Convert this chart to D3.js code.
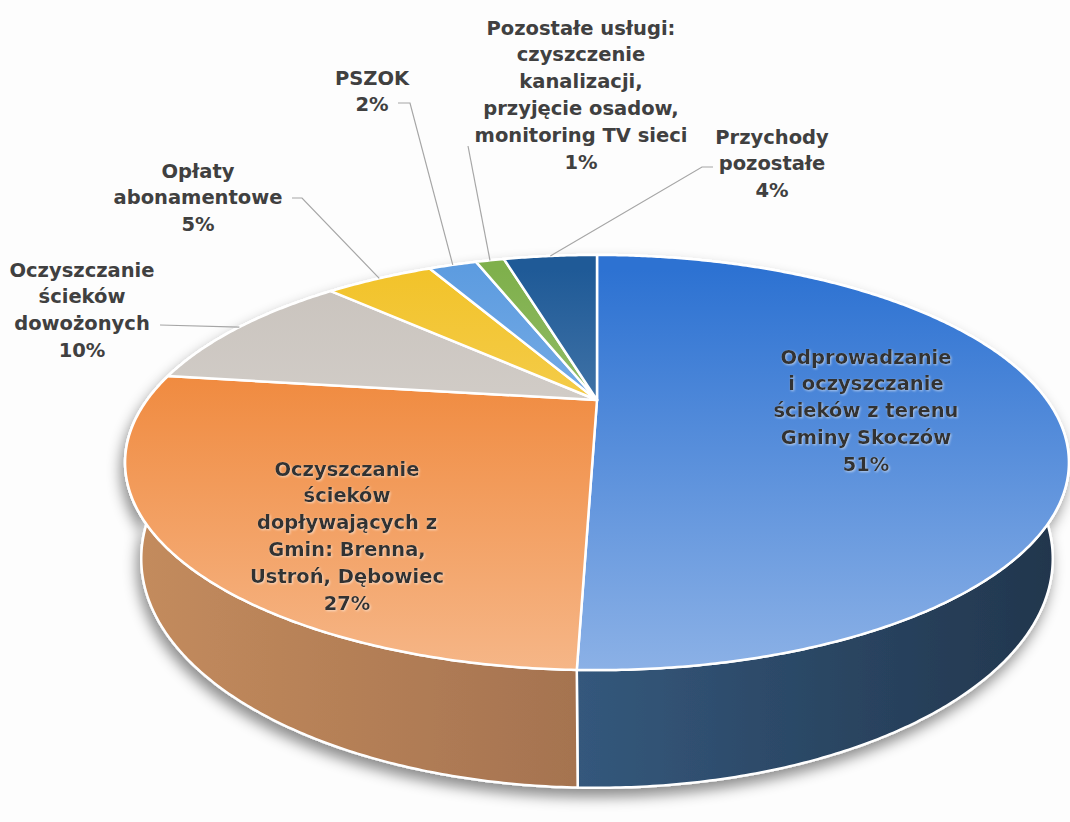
<!DOCTYPE html>
<html><head><meta charset="utf-8">
<script src="https://cdn.jsdelivr.net/npm/d3@7"></script>
<style>body{margin:0;background:#fdfdfd} svg{display:block}</style>
</head><body>
<svg id="chart" width="1070" height="822"></svg>
<script>
// ---- data ----
const categories = [
  "Odprowadzanie i oczyszczanie ścieków z terenu Gminy Skoczów",
  "Oczyszczanie ścieków dopływających z Gmin: Brenna, Ustroń, Dębowiec",
  "Oczyszczanie ścieków dowożonych",
  "Opłaty abonamentowe",
  "PSZOK",
  "Pozostałe usługi: czyszczenie kanalizacji, przyjęcie osadow, monitoring TV sieci",
  "Przychody pozostałe"
];
const values = [50.5, 26.6, 10.2, 4.9, 2.2, 1.3, 4.3];
const labelLines = [
  ["Odprowadzanie", "i oczyszczanie", "ścieków z terenu", "Gminy Skoczów"],
  ["Oczyszczanie", "ścieków", "dopływających z", "Gmin: Brenna,", "Ustroń, Dębowiec"],
  ["Oczyszczanie", "ścieków", "dowożonych"],
  ["Opłaty", "abonamentowe"],
  ["PSZOK"],
  ["Pozostałe usługi:", "czyszczenie", "kanalizacji,", "przyjęcie osadow,", "monitoring TV sieci"],
  ["Przychody", "pozostałe"]
];

// ---- styles / layout ----
const topColors  = ["#2d72d2", "#ee7b26", "#c9c3bd", "#f2c32a", "#5d9ce0", "#7fb04c", "#1f5a97"];
const sideLeft   = ["#34587c", "#c38b5d", "#9c968f", "#c09a20", "#4a7db4", "#638a3b", "#17446f"];
const sideRight  = ["#22364d", "#a57350", "#8a857f", "#a8861a", "#3d6a9a", "#557632", "#133a60"];
const labelPos = [
  {x: 866, y: 357, inside: true},
  {x: 347, y: 469, inside: true},
  {x: 82,  y: 270, leader: [[160, 325], [160, 325]]},
  {x: 198, y: 171, leader: [[292, 198], [302, 198]]},
  {x: 372, y: 78,  leader: [[398, 103], [410, 103]]},
  {x: 581, y: 28,  leader: [[468, 146], [468, 146]]},
  {x: 772, y: 137, leader: [[713, 167], [702, 167]]}
];
const lineH = 26.8;

const cam = {cx: 597, cy: 400, s: 450, alpha: 65.2 * Math.PI / 180, f: 3.014, h: 0.232};

function P(theta, z, r = 1) {
  const X = r * Math.sin(theta), Y = -r * Math.cos(theta);
  const ca = Math.cos(cam.alpha), sa = Math.sin(cam.alpha);
  const yc = Y * ca - z * sa;
  const zc = Y * sa + z * ca;
  const sc = cam.f / (cam.f - zc);
  return [cam.cx + cam.s * X * sc, cam.cy + cam.s * yc * sc];
}
function rim(a0, a1, z) {
  const n = Math.max(2, Math.ceil((a1 - a0) / (Math.PI / 360)));
  return d3.range(n + 1).map(i => P(a0 + (a1 - a0) * i / n, z));
}

const svg = d3.select("#chart");
const defs = svg.append("defs");

const shadow = defs.append("filter").attr("id", "shadow")
  .attr("x", "-10%").attr("y", "-10%").attr("width", "120%").attr("height", "130%");
shadow.append("feDropShadow").attr("dx", -3).attr("dy", 8).attr("stdDeviation", 7)
  .attr("flood-color", "#000").attr("flood-opacity", 0.45);

const glow = defs.append("filter").attr("id", "glow");
glow.append("feDropShadow").attr("dx", 1).attr("dy", 1).attr("stdDeviation", 1.2)
  .attr("flood-color", "#ffffff").attr("flood-opacity", 0.55);

const arcs = d3.pie().sort(null).value(d => d)(values);

// gradients
arcs.forEach((a, i) => {
  const g = defs.append("linearGradient").attr("id", "top" + i)
    .attr("gradientUnits", "userSpaceOnUse").attr("x1", 0).attr("y1", 270).attr("x2", 0).attr("y2", 690);
  g.append("stop").attr("offset", 0).attr("stop-color", topColors[i]);
  g.append("stop").attr("offset", 1).attr("stop-color", d3.interpolateRgb(topColors[i], "#fff")(0.47));
  const pts = rim(a.startAngle, a.endAngle, -cam.h);
  const xs = d3.extent(pts, p => p[0]);
  const sg = defs.append("linearGradient").attr("id", "side" + i)
    .attr("gradientUnits", "userSpaceOnUse").attr("x1", xs[0]).attr("y1", 0).attr("x2", xs[1]).attr("y2", 0);
  sg.append("stop").attr("offset", 0).attr("stop-color", sideLeft[i]);
  sg.append("stop").attr("offset", 1).attr("stop-color", sideRight[i]);
});

const line = d3.line();

// sides
const sideG = svg.append("g").attr("filter", "url(#shadow)");
sideG.selectAll("path").data(arcs).join("path")
  .attr("d", a => line(rim(a.startAngle, a.endAngle, 0).concat(rim(a.startAngle, a.endAngle, -cam.h).reverse())) + "Z")
  .attr("fill", (a, i) => `url(#side${i})`)
  .attr("stroke", "#fff").attr("stroke-width", 2.5).attr("stroke-linejoin", "round");

// tops
svg.append("g").selectAll("path").data(arcs).join("path")
  .attr("d", a => line([P(0, 0, 0)].concat(rim(a.startAngle, a.endAngle, 0))) + "Z")
  .attr("fill", (a, i) => `url(#top${i})`)
  .attr("stroke", "#fff").attr("stroke-width", 2.5).attr("stroke-linejoin", "round");

// leader lines
const leaders = svg.append("g");
arcs.forEach((a, i) => {
  const L = labelPos[i];
  if (!L.leader) return;
  const mid = (a.startAngle + a.endAngle) / 2;
  const end = P(mid, 0, 1.0);
  leaders.append("path")
    .attr("d", line([L.leader[0], L.leader[1], end]))
    .attr("fill", "none").attr("stroke", "#a6a6a6").attr("stroke-width", 1.2);
});

// labels
const fmt = v => Math.round(v) + "%";
const labG = svg.append("g")
  .attr("font-family", "'DejaVu Sans', Verdana, sans-serif")
  .attr("font-weight", "bold").attr("font-size", 19.5).attr("text-anchor", "middle");
arcs.forEach((a, i) => {
  const L = labelPos[i];
  const lines = labelLines[i].concat([fmt(values[i])]);
  const t = labG.append("text")
    .attr("fill", L.inside ? "#333" : "#404040")
    .attr("filter", L.inside ? "url(#glow)" : null);
  lines.forEach((s, k) => {
    t.append("tspan").attr("x", L.x).attr("y", L.y + k * lineH)
      .attr("dominant-baseline", "central").text(s);
  });
});
</script>
</body></html>
